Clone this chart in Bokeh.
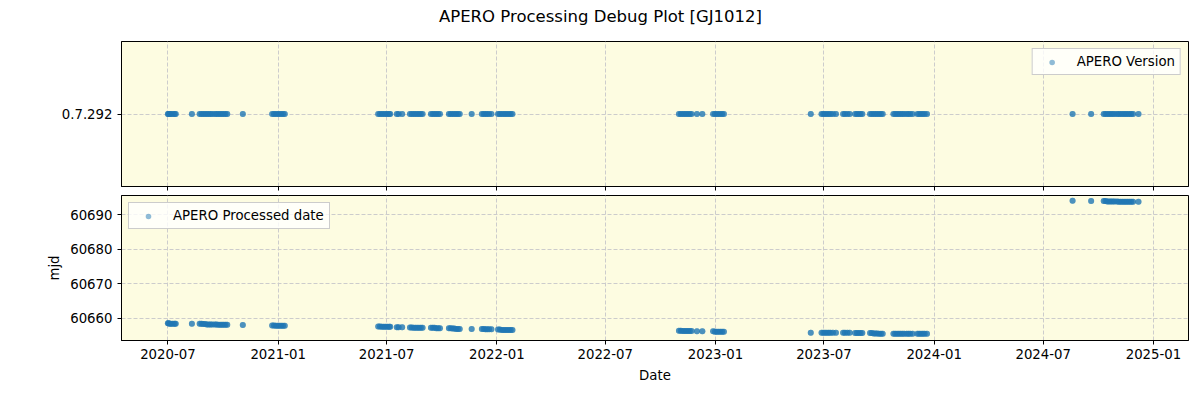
import pandas as pd
from bokeh.plotting import figure
from bokeh.models import (Range1d, FactorRange, FixedTicker, DatetimeTickFormatter,
                          CustomJSTickFormatter, ColumnDataSource)
from bokeh.core.properties import value
from bokeh.layouts import column
from bokeh.embed import file_html
from bokeh.resources import INLINE

# ---------------- data ----------------
title_text = "APERO Processing Debug Plot [GJ1012]"
version_label = "0.7.292"
x_tick_labels = ["2020-07", "2021-01", "2021-07", "2022-01", "2022-07",
                 "2023-01", "2023-07", "2024-01", "2024-07", "2025-01"]
y_ticks_mjd = [60660, 60670, 60680, 60690]

# observation dates (MJD)
obs_mjd = [
    59031, 59032, 59034, 59036, 59039, 59042, 59044,
    59071,
    59084, 59087, 59090, 59093, 59096, 59099, 59102, 59105,
    59109, 59112, 59115, 59118, 59121, 59124, 59127, 59130,
    59156,
    59205, 59208, 59211, 59214, 59217, 59220, 59223, 59226,
    59382, 59385, 59388, 59391, 59394, 59397, 59400, 59402,
    59413, 59416, 59422,
    59435, 59438, 59441, 59444, 59447, 59450, 59453, 59456,
    59470, 59473, 59476, 59479, 59482, 59485,
    59500, 59503, 59506, 59509, 59512, 59515, 59518,
    59538,
    59555, 59558, 59561, 59564, 59567, 59571,
    59582, 59585, 59588, 59591, 59594, 59597, 59600, 59603, 59606,
    59884, 59887, 59890, 59893, 59896, 59899, 59902, 59905,
    59914, 59923,
    59941, 59944, 59947, 59950, 59953, 59956, 59959,
    60104,
    60122, 60125, 60128, 60131, 60134, 60137, 60141,
    60146,
    60158, 60161, 60165, 60169,
    60178, 60181, 60184, 60187, 60190,
    60203, 60206, 60209, 60212, 60215, 60218, 60221, 60224,
    60242, 60245, 60248, 60251, 60254, 60257, 60260,
    60264, 60267, 60270, 60274,
    60282, 60285, 60288, 60291, 60294, 60298,
    60541,
    60572,
    60593, 60596, 60599, 60602, 60605, 60608, 60611, 60615,
    60618, 60621, 60624, 60627, 60630, 60633, 60636, 60639, 60642,
    60651,
]

# processed date (MJD) for each observation
processed_mjd = [
    60658.6, 60658.6, 60658.5, 60658.5, 60658.5, 60658.5, 60658.5,
    60658.5,
    60658.5, 60658.5, 60658.4, 60658.4, 60658.3, 60658.3, 60658.3, 60658.3,
    60658.3, 60658.3, 60658.2, 60658.2, 60658.2, 60658.2, 60658.2, 60658.2,
    60658.1,
    60658.0, 60658.0, 60657.9, 60657.9, 60657.9, 60657.9, 60657.9, 60657.9,
    60657.7, 60657.7, 60657.6, 60657.6, 60657.6, 60657.6, 60657.6, 60657.6,
    60657.5, 60657.5, 60657.5,
    60657.4, 60657.4, 60657.3, 60657.3, 60657.3, 60657.3, 60657.3, 60657.3,
    60657.3, 60657.3, 60657.3, 60657.2, 60657.2, 60657.2,
    60657.2, 60657.2, 60657.1, 60657.1, 60657.0, 60657.0, 60657.0,
    60657.0,
    60657.0, 60657.0, 60656.9, 60656.9, 60656.9, 60656.9,
    60656.8, 60656.8, 60656.7, 60656.7, 60656.7, 60656.7, 60656.7, 60656.7, 60656.7,
    60656.5, 60656.5, 60656.4, 60656.4, 60656.4, 60656.4, 60656.4, 60656.4,
    60656.3, 60656.3,
    60656.3, 60656.2, 60656.2, 60656.2, 60656.2, 60656.2, 60656.2,
    60655.9,
    60655.9, 60655.9, 60655.9, 60655.9, 60655.9, 60655.9, 60655.9,
    60655.9,
    60655.9, 60655.9, 60655.9, 60655.9,
    60655.8, 60655.8, 60655.8, 60655.8, 60655.8,
    60655.8, 60655.8, 60655.7, 60655.7, 60655.7, 60655.6, 60655.6, 60655.6,
    60655.6, 60655.6, 60655.6, 60655.6, 60655.6, 60655.6, 60655.6,
    60655.6, 60655.6, 60655.6, 60655.6,
    60655.6, 60655.6, 60655.6, 60655.6, 60655.6, 60655.6,
    60694.0,
    60693.9,
    60693.9, 60693.9, 60693.8, 60693.8, 60693.8, 60693.8, 60693.8, 60693.8,
    60693.7, 60693.7, 60693.7, 60693.7, 60693.7, 60693.7, 60693.7, 60693.7, 60693.7,
    60693.7,
]

MJD_UNIX_EPOCH = 40587
obs_dates = pd.to_datetime([m - MJD_UNIX_EPOCH for m in obs_mjd], unit="D")

source = ColumnDataSource(dict(
    date=obs_dates,
    version=[version_label] * len(obs_mjd),
    processed=processed_mjd,
))

# ---------------- styling ----------------
FONT = "DejaVu Sans"
BG = "#fdfce1"
BLUE = "#1f77b4"
GRID = "#cccccc"
TXT = "13.3px"

x_start = pd.Timestamp("2020-04-14 12:00")
x_end = pd.Timestamp("2025-02-28 12:00")
x_range = Range1d(x_start, x_end)
tick_ms = [int(pd.Timestamp(t + "-01").value // 10**6) for t in x_tick_labels]
fmt = "%Y-%m"


def style(p):
    p.background_fill_color = BG
    p.border_fill_color = "white"
    p.outline_line_color = "black"
    p.outline_line_width = 1
    for ax in (p.xaxis[0], p.yaxis[0]):
        ax.axis_line_color = "black"
        ax.major_tick_out = 4
        ax.major_tick_in = 0
        ax.minor_tick_line_color = None
        ax.major_tick_line_color = "black"
        ax.major_label_text_font = FONT
        ax.major_label_text_font_size = TXT
        ax.major_label_text_color = "black"
        ax.axis_label_text_font = FONT
        ax.axis_label_text_font_size = TXT
        ax.axis_label_text_font_style = "normal"
        ax.axis_label_text_color = "black"
    for g in (p.xgrid[0], p.ygrid[0]):
        g.grid_line_color = GRID
        g.grid_line_dash = "4 2"
        g.grid_line_width = 1
    p.xaxis[0].ticker = FixedTicker(ticks=tick_ms)


def style_legend(p, loc):
    lg = p.legend[0]
    lg.location = loc
    lg.margin = 7
    lg.padding = 5
    lg.spacing = 0
    lg.label_text_font = FONT
    lg.label_text_font_size = TXT
    lg.label_text_color = "black"
    lg.label_standoff = 11
    lg.glyph_width = 28
    lg.glyph_height = 14
    lg.label_height = 14
    lg.border_line_color = "#cccccc"
    lg.border_line_alpha = 1
    lg.background_fill_color = "white"
    lg.background_fill_alpha = 0.8


# ---------------- figure title strip (frame aligned with the panels) ----------------
p0 = figure(width=1200, height=41, x_range=Range1d(121, 1188), y_range=Range1d(41, 0),
            output_backend="svg", toolbar_location=None,
            x_axis_location=None, y_axis_location=None,
            min_border_left=121, min_border_right=12,
            min_border_top=0, min_border_bottom=0, outline_line_color=None)
p0.grid.visible = False
p0.text(x=[600], y=[16], text=[title_text], text_align="center",
        text_baseline="middle", text_font=value(FONT), text_font_size="16.5px",
        text_color="black")

# ---------------- top panel ----------------
p1 = figure(width=1200, height=154, x_axis_type="datetime", x_range=x_range,
            y_range=FactorRange(factors=[version_label], range_padding=0),
            output_backend="svg", toolbar_location=None,
            min_border_left=121, min_border_right=12,
            min_border_top=0, min_border_bottom=9)
p1.scatter("date", "version", source=source, size=6, color=BLUE, alpha=0.5,
           line_color=None, legend_label="APERO Version")
p1.scatter("date", "version", source=source, size=6, color=BLUE, alpha=0.6,
           line_color=None)
style(p1)
p1.xaxis[0].formatter = CustomJSTickFormatter(code="return ''")
p1.xaxis[0].major_label_standoff = 0
style_legend(p1, "top_right")

# ---------------- bottom panel ----------------
p2 = figure(width=1200, height=205, x_axis_type="datetime", x_range=x_range,
            y_range=Range1d(60653.65, 60695.5),
            output_backend="svg", toolbar_location=None,
            min_border_left=121, min_border_right=12,
            min_border_top=0, min_border_bottom=60)
p2.scatter("date", "processed", source=source, size=6, color=BLUE, alpha=0.5,
           line_color=None, legend_label="APERO Processed date")
p2.scatter("date", "processed", source=source, size=6, color=BLUE, alpha=0.6,
           line_color=None)
style(p2)
p2.xaxis[0].formatter = DatetimeTickFormatter(days=fmt, months=fmt, years=fmt)
p2.yaxis[0].ticker = FixedTicker(ticks=y_ticks_mjd)
p2.yaxis[0].axis_label = "mjd"
p2.xaxis[0].axis_label = "Date"
p2.xaxis[0].major_label_standoff = 4
p2.xaxis[0].axis_label_standoff = 6
style_legend(p2, "top_left")

layout = column(p0, p1, p2, spacing=0)
open("out.html", "w").write(file_html(layout, INLINE))
